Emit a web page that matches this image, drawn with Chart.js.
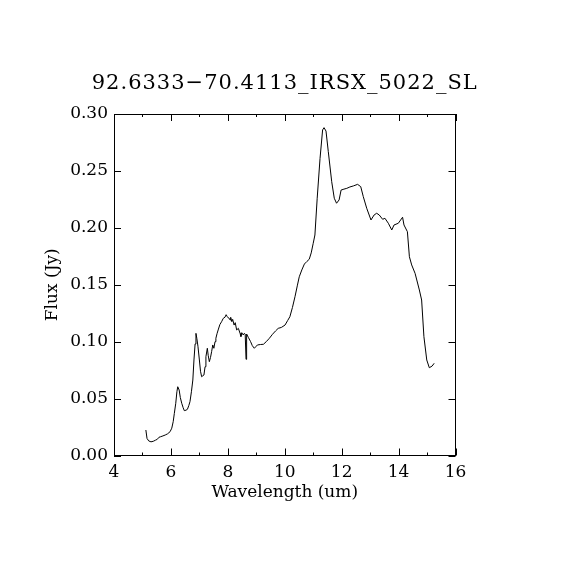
<!DOCTYPE html>
<html>
<head>
<meta charset="utf-8">
<script src="https://cdn.jsdelivr.net/npm/chart.js@4.4.1/dist/chart.umd.min.js"></script>
<style>
  html, body { margin: 0; padding: 0; background: #ffffff; }
  #wrap { width: 570px; height: 570px; position: relative; }
</style>
</head>
<body>
<div id="wrap"><canvas id="c" width="570" height="570"></canvas></div>
<script>
const chartTitle = "92.6333\u221270.4113_IRSX_5022_SL";
const xAxisTitle = "Wavelength (um)";
const yAxisTitle = "Flux (Jy)";

const wavelength = [
  5.12, 5.16, 5.22, 5.30, 5.38, 5.46, 5.52, 5.58, 5.64, 5.72, 5.80, 5.88, 5.97, 6.03, 6.08, 6.12,
  6.17, 6.21, 6.24, 6.29, 6.33, 6.38, 6.43, 6.47, 6.53, 6.58, 6.63, 6.67, 6.72, 6.77, 6.81, 6.85,
  6.88, 6.91, 6.95, 7.00, 7.04, 7.08, 7.12, 7.16, 7.20, 7.23, 7.28, 7.31, 7.35, 7.39, 7.43, 7.47,
  7.51, 7.55, 7.58, 7.62, 7.66, 7.72, 7.78, 7.84, 7.90, 7.94, 7.98, 8.01, 8.05, 8.08, 8.10, 8.14,
  8.17, 8.22, 8.26, 8.31, 8.37, 8.43, 8.46, 8.49, 8.54, 8.58, 8.61, 8.64, 8.66, 8.72, 8.80, 8.86,
  8.93, 8.98, 9.04, 9.15, 9.25, 9.35, 9.46, 9.57, 9.68, 9.77, 9.88, 10.01, 10.10, 10.18, 10.27, 10.36,
  10.44, 10.51, 10.60, 10.69, 10.78, 10.86, 10.93, 11.00, 11.06, 11.14, 11.24, 11.33, 11.38, 11.45, 11.53, 11.65,
  11.74, 11.82, 11.91, 11.98, 12.08, 12.18, 12.29, 12.41, 12.56, 12.67, 12.76, 12.88, 13.03, 13.14, 13.23, 13.32,
  13.44, 13.52, 13.64, 13.76, 13.84, 13.99, 14.14, 14.19, 14.31, 14.38, 14.46, 14.58, 14.73, 14.81, 14.89, 14.99,
  15.08, 15.18, 15.25
];

const flux = [
  0.0224, 0.0150, 0.0128, 0.0120, 0.0125, 0.0135, 0.0142, 0.0160, 0.0165, 0.0172, 0.0180, 0.0190, 0.0209, 0.0240, 0.0297, 0.0370,
  0.0459, 0.0560, 0.0604, 0.0575, 0.0510, 0.0459, 0.0420, 0.0394, 0.0398, 0.0406, 0.0440, 0.0473, 0.0560, 0.0663, 0.0839, 0.0980,
  0.1073, 0.1030, 0.0960, 0.0839, 0.0740, 0.0692, 0.0700, 0.0707, 0.0780, 0.0868, 0.0942, 0.0880, 0.0824, 0.0860, 0.0912, 0.0971,
  0.0942, 0.1000, 0.1030, 0.1070, 0.1103, 0.1150, 0.1175, 0.1205, 0.1215, 0.1237, 0.1220, 0.1210, 0.1205, 0.1190, 0.1214, 0.1176,
  0.1196, 0.1146, 0.1167, 0.1103, 0.1117, 0.1073, 0.1045, 0.1079, 0.1059, 0.1073, 0.1067, 0.0845, 0.1067, 0.1038, 0.1000, 0.0965,
  0.0942, 0.0955, 0.0971, 0.0975, 0.0977, 0.1000, 0.1030, 0.1065, 0.1095, 0.1117, 0.1125, 0.1146, 0.1185, 0.1219, 0.1300, 0.1395,
  0.1490, 0.1570, 0.1630, 0.1682, 0.1705, 0.1724, 0.1780, 0.1864, 0.1937, 0.2260, 0.2610, 0.2860, 0.2880, 0.2850, 0.2670, 0.2405,
  0.2260, 0.2216, 0.2245, 0.2332, 0.2340, 0.2347, 0.2359, 0.2368, 0.2382, 0.2362, 0.2274, 0.2172, 0.2069, 0.2113, 0.2128, 0.2113,
  0.2075, 0.2084, 0.2040, 0.1981, 0.2025, 0.2040, 0.2093, 0.2025, 0.1966, 0.1746, 0.1674, 0.1600, 0.1454, 0.1366, 0.1044, 0.0839,
  0.0771, 0.0786, 0.0810
];

const xMin = 4, xMax = 16, xStep = 2, xMinorStep = 1;
const yMin = 0, yMax = 0.30, yStep = 0.05;

const FONT = "'DejaVu Serif', 'Liberation Serif', serif";

const points = wavelength.map((w, i) => ({ x: w, y: flux[i] }));

const framePlugin = {
  id: 'frame',
  afterDraw(chart) {
    const ctx = chart.ctx;
    const a = chart.chartArea;
    const xs = chart.scales.x, ys = chart.scales.y;
    ctx.save();
    ctx.strokeStyle = '#000';
    ctx.lineWidth = 1;
    // frame
    ctx.strokeRect(Math.round(a.left) + 0.5, Math.round(a.top) + 0.5,
                   Math.round(a.right - a.left) - 1, Math.round(a.bottom - a.top) - 1);
    ctx.beginPath();
    // x ticks (major + minor), bottom and top, inward
    for (let v = xMin; v <= xMax + 1e-9; v += xMinorStep) {
      const px = Math.round(xs.getPixelForValue(v)) + 0.5;
      const isMajor = Math.abs((v - xMin) / xStep - Math.round((v - xMin) / xStep)) < 1e-6;
      const len = isMajor ? 7 : 3;
      ctx.moveTo(px, a.bottom); ctx.lineTo(px, a.bottom - len);
      ctx.moveTo(px, a.top); ctx.lineTo(px, a.top + len);
    }
    // y ticks, left and right, inward
    for (const t of ys.ticks) {
      const py = Math.round(ys.getPixelForValue(t.value)) + 0.5;
      ctx.moveTo(a.left, py); ctx.lineTo(a.left + 7, py);
      ctx.moveTo(a.right, py); ctx.lineTo(a.right - 7, py);
    }
    ctx.stroke();

    // titles
    ctx.fillStyle = '#000';
    ctx.textAlign = 'center';
    ctx.textBaseline = 'alphabetic';
    ctx.font = "21px " + FONT;
    try { ctx.letterSpacing = '1px'; } catch (e) {}
    ctx.fillText(chartTitle, (a.left + a.right) / 2, 89);
    try { ctx.letterSpacing = '0px'; } catch (e) {}
    ctx.font = "17px " + FONT;
    ctx.fillText(xAxisTitle, (a.left + a.right) / 2, 497);
    ctx.save();
    ctx.translate(57, (a.top + a.bottom) / 2);
    ctx.rotate(-Math.PI / 2);
    ctx.fillText(yAxisTitle, 0, 0);
    ctx.restore();
    ctx.restore();
  }
};

new Chart(document.getElementById('c'), {
  type: 'line',
  data: {
    datasets: [{
      data: points,
      borderColor: '#000',
      borderWidth: 1,
      pointRadius: 0,
      tension: 0,
      fill: false
    }]
  },
  options: {
    responsive: false,
    animation: false,
    devicePixelRatio: 1,
    layout: { padding: { top: 114, right: 114.5, bottom: 20, left: 0 } },
    plugins: { legend: { display: false }, title: { display: false }, tooltip: { enabled: false } },
    scales: {
      x: {
        type: 'linear',
        min: xMin, max: xMax,
        afterFit(s) { s.height = 94.5; },
        grid: { display: false, drawTicks: false },
        border: { display: false },
        ticks: {
          stepSize: xStep,
          padding: 7,
          color: '#000',
          font: { family: FONT, size: 17 },
          maxRotation: 0,
          callback: v => String(v)
        }
      },
      y: {
        type: 'linear',
        min: yMin, max: yMax,
        afterFit(s) { s.width = 114; },
        grid: { display: false, drawTicks: false },
        border: { display: false },
        ticks: {
          stepSize: yStep,
          padding: 6,
          color: '#000',
          font: { family: FONT, size: 17 },
          callback: v => Number(v).toFixed(2)
        }
      }
    }
  },
  plugins: [framePlugin]
});
</script>
</body>
</html>
